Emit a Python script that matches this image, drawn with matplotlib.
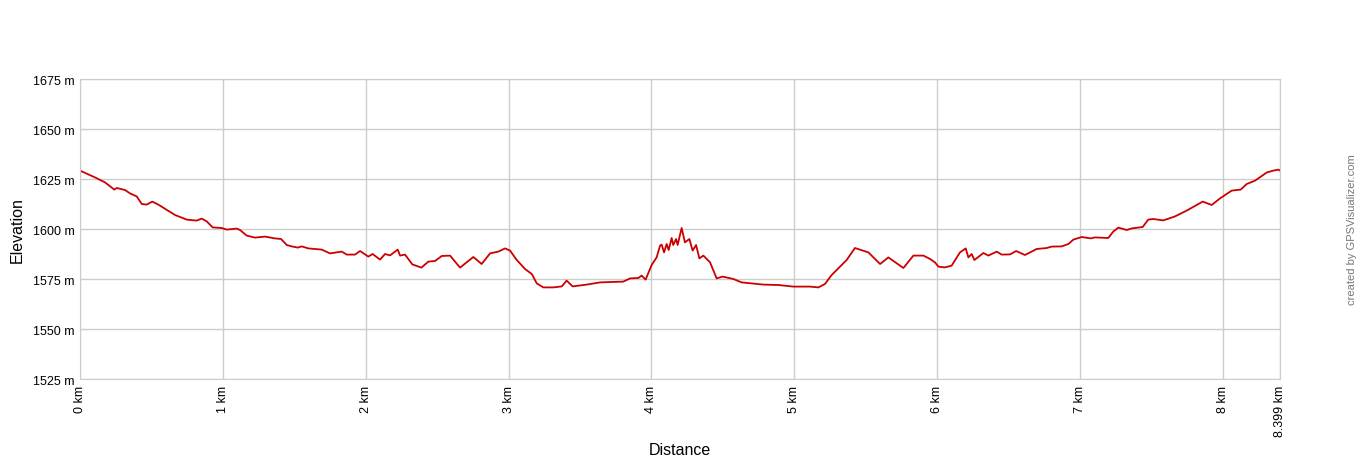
import matplotlib
matplotlib.use("Agg")
import matplotlib.pyplot as plt

plt.rcParams['font.family'] = ['Liberation Sans', 'DejaVu Sans']

# distance along the track (km) and elevation (m)
distance_km = [0.0, 0.105, 0.175, 0.24, 0.257, 0.315, 0.35, 0.397, 0.432, 0.467,
               0.506, 0.548, 0.665, 0.747, 0.817, 0.852, 0.887, 0.929, 0.992, 1.027,
               1.097, 1.12, 1.167, 1.225, 1.295, 1.365, 1.407, 1.447, 1.482, 1.524,
               1.552, 1.598, 1.692, 1.75, 1.832, 1.867, 1.925, 1.96, 2.018, 2.048,
               2.1, 2.135, 2.17, 2.224, 2.24, 2.275, 2.326, 2.39, 2.438, 2.485,
               2.532, 2.59, 2.66, 2.753, 2.811, 2.87, 2.928, 2.975, 3.01, 3.057,
               3.115, 3.162, 3.197, 3.243, 3.313, 3.372, 3.406, 3.448, 3.546, 3.64,
               3.803, 3.85, 3.908, 3.931, 3.959, 4.001, 4.036, 4.06, 4.071, 4.088,
               4.106, 4.12, 4.141, 4.152, 4.172, 4.183, 4.211, 4.234, 4.265, 4.288,
               4.312, 4.335, 4.363, 4.41, 4.456, 4.498, 4.573, 4.631, 4.783, 4.888,
               4.993, 5.11, 5.168, 5.214, 5.261, 5.366, 5.424, 5.518, 5.6, 5.658,
               5.763, 5.833, 5.903, 5.95, 5.984, 6.008, 6.054, 6.101, 6.159, 6.199,
               6.218, 6.241, 6.26, 6.323, 6.358, 6.416, 6.451, 6.51, 6.552, 6.614,
               6.696, 6.766, 6.801, 6.871, 6.918, 6.953, 7.011, 7.074, 7.104, 7.197,
               7.232, 7.267, 7.326, 7.361, 7.438, 7.477, 7.512, 7.582, 7.664, 7.746,
               7.858, 7.921, 7.979, 8.061, 8.124, 8.166, 8.225, 8.307, 8.353, 8.388,
               8.399]
elevation_m = [1629.2, 1625.8, 1623.3, 1619.7, 1620.5, 1619.5, 1617.8, 1616.3, 1612.5, 1612.2,
               1613.7, 1612.2, 1607.0, 1604.7, 1604.2, 1605.2, 1603.8, 1600.8, 1600.5, 1599.7,
               1600.2, 1599.5, 1596.7, 1595.7, 1596.2, 1595.3, 1595.0, 1592.0, 1591.3, 1590.7,
               1591.3, 1590.3, 1589.7, 1587.8, 1588.7, 1587.2, 1587.2, 1589.0, 1586.2, 1587.5,
               1584.7, 1587.5, 1586.8, 1589.7, 1586.7, 1587.2, 1582.3, 1580.7, 1583.7, 1584.0,
               1586.5, 1586.7, 1580.7, 1586.0, 1582.5, 1587.8, 1588.7, 1590.3, 1589.2, 1584.5,
               1580.0, 1577.5, 1572.8, 1570.8, 1570.8, 1571.3, 1574.2, 1571.3, 1572.2, 1573.3,
               1573.7, 1575.3, 1575.5, 1576.7, 1574.7, 1582.0, 1585.8, 1591.7, 1592.2, 1588.3,
               1592.5, 1589.5, 1595.5, 1592.0, 1595.0, 1592.0, 1600.5, 1593.3, 1595.0, 1589.2,
               1592.0, 1585.3, 1586.7, 1583.3, 1575.3, 1576.2, 1575.0, 1573.3, 1572.2, 1572.0,
               1571.2, 1571.2, 1570.8, 1572.5, 1577.0, 1584.5, 1590.5, 1588.3, 1582.5, 1585.8,
               1580.5, 1586.7, 1586.7, 1585.0, 1583.3, 1581.2, 1580.8, 1581.7, 1588.3, 1590.3,
               1585.8, 1587.5, 1584.5, 1588.0, 1586.7, 1588.7, 1587.2, 1587.3, 1589.0, 1587.0,
               1590.0, 1590.5, 1591.2, 1591.3, 1592.5, 1594.7, 1596.0, 1595.3, 1595.8, 1595.5,
               1598.7, 1600.7, 1599.5, 1600.3, 1601.0, 1604.7, 1605.0, 1604.3, 1606.3, 1609.2,
               1613.7, 1612.0, 1615.3, 1619.2, 1619.7, 1622.5, 1624.2, 1628.3, 1629.2, 1629.7,
               1629.2]

x_ticks = [0, 1, 2, 3, 4, 5, 6, 7, 8, 8.399]
x_tick_labels = ['0 km', '1 km', '2 km', '3 km', '4 km', '5 km', '6 km', '7 km', '8 km', '8.399 km']
y_ticks = [1525, 1550, 1575, 1600, 1625, 1650, 1675]
y_tick_labels = [f'{v} m' for v in y_ticks]

fig = plt.figure(figsize=(13.6, 4.6), dpi=100)
ax = fig.add_axes([80 / 1360, 80 / 460, 1200 / 1360, 300 / 460])

ax.plot(distance_km, elevation_m, color='#cc0000', linewidth=1.3)

ax.set_xlim(0, 8.399)
ax.set_ylim(1525, 1675)
ax.set_xticks(x_ticks)
ax.set_xticklabels(x_tick_labels, rotation=90, fontsize=9)
ax.set_yticks(y_ticks)
ax.set_yticklabels(y_tick_labels, fontsize=9)
ax.tick_params(length=0, pad=4)
ax.grid(True, color='#cccccc', linewidth=1)
ax.set_axisbelow(True)
for s in ax.spines.values():
    s.set_color('#cccccc')

ax.set_xlabel('Distance', fontsize=11.5, va='center')
ax.xaxis.set_label_coords(0.5, -0.235)
ax.set_ylabel('Elevation', fontsize=11.5, va='center')
ax.yaxis.set_label_coords(-0.052, 0.5)

fig.text(1352 / 1360, 230 / 460, 'created by GPSVisualizer.com', rotation=90,
         ha='center', va='center', fontsize=8, color='#777777')

fig.savefig('out.png', dpi=100)
